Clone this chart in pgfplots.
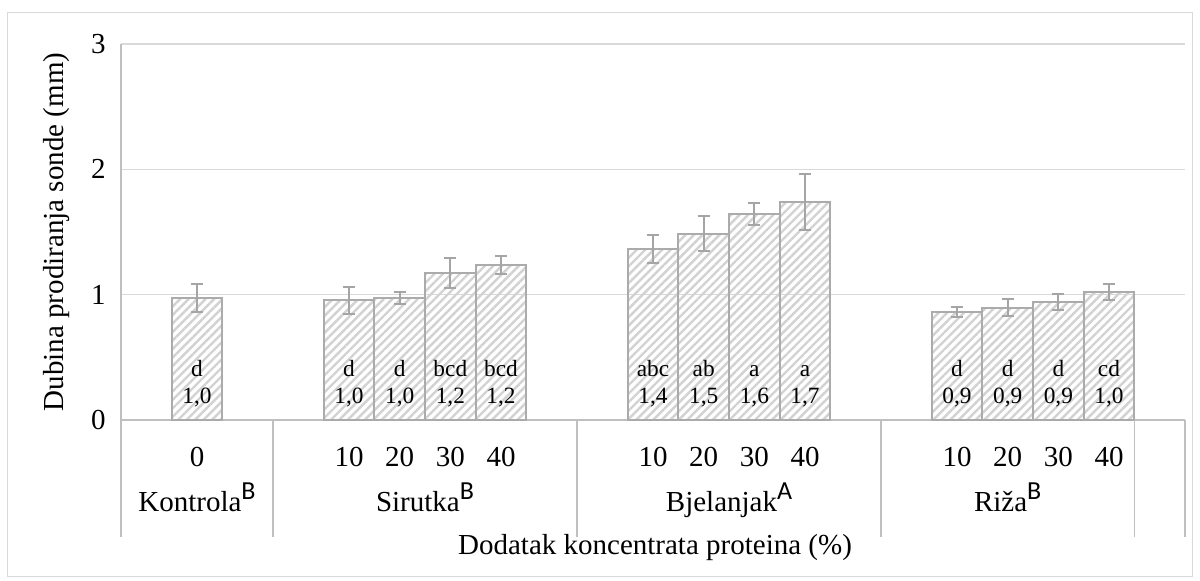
\documentclass[border=0pt]{standalone}
\usepackage{fontspec}
\setmainfont{Liberation Serif}
\newfontfamily\supfont{Carlito}
\usepackage{pgfplots}
\pgfplotsset{compat=1.18}
\usepackage{pgfplotstable}
\usetikzlibrary{patterns.meta}
\definecolor{gridc}{HTML}{D9D9D9}
\definecolor{axisc}{HTML}{BFBFBF}
\definecolor{barc}{HTML}{ABABAB}
\definecolor{hatchc}{HTML}{D2D2D2}
\definecolor{errc}{HTML}{A5A5A5}
\newcommand{\sB}[1]{\raisebox{9pt}{\supfont\fontsize{19.5}{19.5}\selectfont #1}}

\pgfplotstableread{
x  y     err   lab  lpos  vpos
1  0.973 0.115 d    0.351 0.133
4  0.955 0.107 d    0.351 0.133
5  0.973 0.045 d    0.351 0.133
6  1.173 0.120 bcd  0.351 0.133
7  1.237 0.070 bcd  0.351 0.133
10 1.363 0.110 abc  0.351 0.133
11 1.488 0.140 ab   0.351 0.133
12 1.642 0.088 a    0.351 0.133
13 1.738 0.225 a    0.351 0.133
16 0.864 0.040 d    0.351 0.133
17 0.896 0.069 d    0.351 0.133
18 0.941 0.063 d    0.351 0.133
19 1.019 0.063 cd   0.351 0.133
}\data

\begin{document}
\begin{tikzpicture}
\path[use as bounding box] (0,0) rectangle (900pt,435.75pt);
\draw[gridc, line width=0.75pt] (5.6pt,3.5pt) rectangle (894.5pt,426.5pt);
\begin{axis}[
  at={(90.75pt,120.75pt)}, anchor=south west,
  scale only axis, width=798pt, height=282pt,
  xmin=-0.5, xmax=20.5, ymin=0, ymax=3,
  axis x line*=bottom, axis y line*=left,
  axis line style={axisc, line width=1.2pt, -},
  ymajorgrids, grid style={gridc, line width=1.2pt},
  ytick={0,1,2,3},
  xtick={1,4,5,6,7,10,11,12,13,16,17,18,19},
  xticklabels={0,10,20,30,40,10,20,30,40,10,20,30,40},
  major tick length=0pt, tick style={draw=none},
  tick label style={font=\fontsize{21.75}{26}\selectfont},
  xticklabel style={anchor=base, yshift=-35pt},
  yticklabel style={anchor=east, xshift=-8pt},
  /pgf/number format/assume math mode=true,
  clip=false,
]
\addplot[ybar, bar width=1, draw=barc, line width=1.5pt,
  pattern={Lines[angle=45,distance=4.5pt,line width=1.8pt]}, pattern color=hatchc,
  error bars/.cd, y dir=both, y explicit,
  error mark=-,
  error bar style={errc, line width=1.5pt},
  error mark options={rotate=90, draw=errc, line width=1.5pt, mark size=4.5pt}]
  table[x=x, y=y, y error=err]{\data};
\addplot[draw=none, mark=none, nodes near coords, point meta=explicit symbolic,
  every node near coord/.append style={anchor=base, inner sep=0pt, font=\fontsize{17.5}{20}\selectfont}]
  table[x=x, y=lpos, meta=lab]{\data};
\addplot[draw=none, mark=none, nodes near coords, point meta=explicit,
  nodes near coords={\pgfmathprintnumber[fixed, fixed zerofill, precision=1, use comma, assume math mode=true]{\pgfplotspointmeta}},
  every node near coord/.append style={anchor=base, inner sep=0pt, font=\fontsize{17.5}{20}\selectfont}]
  table[x=x, y=vpos, meta=y]{\data};
\pgfplotsinvokeforeach{-0.5,2.5,8.5,14.5,19.5,20.5}{
  \draw[axisc, line width=1.2pt] (axis cs:#1,0) -- ++(0pt,-87.75pt);
}
\node[anchor=base, font=\fontsize{21.75}{26}\selectfont, yshift=-68.8pt] at (axis cs:1,0) {Kontrola\sB{B}};
\node[anchor=base, font=\fontsize{21.75}{26}\selectfont, yshift=-68.8pt] at (axis cs:5.5,0) {Sirutka\sB{B}};
\node[anchor=base, font=\fontsize{21.75}{26}\selectfont, yshift=-68.8pt] at (axis cs:11.5,0) {Bjelanjak\sB{A}};
\node[anchor=base, font=\fontsize{21.75}{26}\selectfont, yshift=-68.8pt] at (axis cs:17,0) {Riža\sB{B}};
\end{axis}
\node[anchor=base, font=\fontsize{21.75}{26}\selectfont] at (491.25pt,19.5pt) {Dodatak koncentrata proteina (\%)};
\node[rotate=90, anchor=base, font=\fontsize{21.75}{26}\selectfont] at (47.25pt,261.75pt) {Dubina prodiranja sonde (mm)};
\end{tikzpicture}
\end{document}
